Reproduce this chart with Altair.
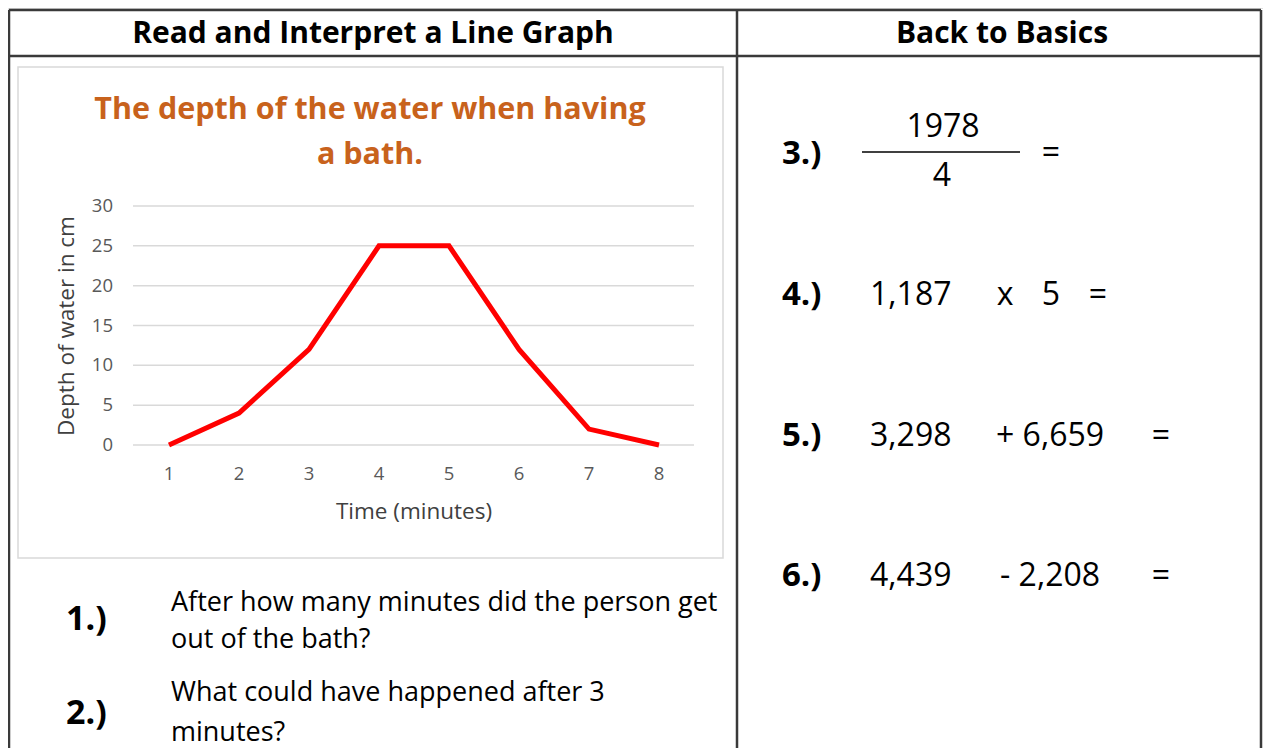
import altair as alt
import pandas as pd

# ---- data ----
minutes = [1, 2, 3, 4, 5, 6, 7, 8]
depth = [0, 4, 12, 25, 25, 12, 2, 0]
y_ticks = [0, 5, 10, 15, 20, 25, 30]

chart_title = ["The depth of the water when having", "a bath."]
x_title = "Time (minutes)"
y_title = "Depth of water in cm"
headers = ["Read and Interpret a Line Graph", "Back to Basics"]
q1 = ["After how many minutes did the person get", "out of the bath?"]
q2 = ["What could have happened after 3", "minutes?"]
q_nums = ["1.)", "2.)", "3.)", "4.)", "5.)", "6.)"]
frac = ["1978", "4"]
sum4 = ["1,187", "x", "5"]
sum5 = ["3,298", "+ 6,659"]
sum6 = ["4,439", "- 2,208"]

FONT = "Open Sans"
W, H = 1255, 740

one = pd.DataFrame({"a": [0]})
line_df = pd.DataFrame({"minute": minutes, "depth": depth})
ytick_df = pd.DataFrame({"v": y_ticks})
xtick_df = pd.DataFrame({"m": minutes})

xs = alt.Scale(domain=[1, 8], range=[161, 651])
ys = alt.Scale(domain=[0, 30], range=[437, 198])


def txt(s, x, y, size, bold=False, color="#000000", align="left", angle=0):
    return alt.Chart(one).mark_text(
        text=s, font=FONT, fontSize=size, fontWeight="bold" if bold else "normal",
        color=color, align=align, baseline="middle", angle=angle
    ).encode(x=alt.value(x), y=alt.value(y))


def rule(x1, y1, x2, y2, color="#3a3a3a", w=2.5):
    return alt.Chart(one).mark_rule(color=color, strokeWidth=w).encode(
        x=alt.value(x1), y=alt.value(y1), x2=alt.value(x2), y2=alt.value(y2))


RIGHT = 1253
layers = []
# table borders
layers.append(rule(1, 2, RIGHT, 2))
layers.append(rule(1, 48, RIGHT, 48))
layers.append(rule(1, 2, 1, H))
layers.append(rule(729, 2, 729, H))
layers.append(rule(RIGHT, 2, RIGHT, H))

# chart frame
layers.append(alt.Chart(one).mark_rect(fill="white", stroke="#d9d9d9", strokeWidth=1.5).encode(
    x=alt.value(10), x2=alt.value(715), y=alt.value(59), y2=alt.value(550)))

# headers
layers.append(txt(headers[0], 365, 26, 30, bold=True, align="center"))
layers.append(txt(headers[1], 994, 26, 30, bold=True, align="center"))

# chart title
orange = "#c8621c"
layers.append(txt(chart_title[0], 362, 102, 30.5, bold=True, color=orange, align="center"))
layers.append(txt(chart_title[1], 362, 147, 30.5, bold=True, color=orange, align="center"))

# gridlines
layers.append(alt.Chart(ytick_df).mark_rule(color="#d9d9d9", strokeWidth=1.5).encode(
    y=alt.Y("v:Q", scale=ys, axis=None), x=alt.value(125), x2=alt.value(686)))
# y tick labels
layers.append(alt.Chart(ytick_df).mark_text(
    font=FONT, fontSize=18.5, color="#595959", align="right", baseline="middle").encode(
    y=alt.Y("v:Q", scale=ys, axis=None), x=alt.value(105), text="v:Q"))
# x tick labels
layers.append(alt.Chart(xtick_df).mark_text(
    font=FONT, fontSize=18.5, color="#595959", align="center", baseline="middle").encode(
    x=alt.X("m:Q", scale=xs, axis=None), y=alt.value(466), text="m:Q"))
# axis titles
layers.append(txt(x_title, 406, 504, 22.5, color="#404040", align="center"))
layers.append(txt(y_title, 59, 318, 22.5, color="#404040", align="center", angle=270))

# data line
layers.append(alt.Chart(line_df).mark_line(color="#ff0000", strokeWidth=5, strokeJoin="miter").encode(
    x=alt.X("minute:Q", scale=xs, axis=None),
    y=alt.Y("depth:Q", scale=ys, axis=None)))

# questions
layers.append(txt(q_nums[0], 58, 612, 34, bold=True))
layers.append(txt(q1[0], 163, 595, 27))
layers.append(txt(q1[1], 163, 632, 27))
layers.append(txt(q_nums[1], 58, 706, 34, bold=True))
layers.append(txt(q2[0], 163, 685, 27))
layers.append(txt(q2[1], 163, 725, 27))

# back to basics
NS = 32
NB = 33
layers.append(txt(q_nums[2], 774, 146, NB, bold=True))
layers.append(rule(854, 144, 1012, 144, color="#404040", w=2))
layers.append(txt(frac[0], 935, 119, NS, align="center"))
layers.append(txt(frac[1], 934, 168, NS, align="center"))
layers.append(txt("=", 1043, 145, NS, align="center"))

layers.append(txt(q_nums[3], 774, 287, NB, bold=True))
layers.append(txt(sum4[0], 862, 287, NS))
layers.append(txt(sum4[1], 997, 287, NS, align="center"))
layers.append(txt(sum4[2], 1043, 287, NS, align="center"))
layers.append(txt("=", 1090, 287, NS, align="center"))

layers.append(txt(q_nums[4], 774, 428, NB, bold=True))
layers.append(txt(sum5[0], 862, 428, NS))
layers.append(txt(sum5[1], 988, 428, NS))
layers.append(txt("=", 1153, 428, NS, align="center"))

layers.append(txt(q_nums[5], 774, 568, NB, bold=True))
layers.append(txt(sum6[0], 862, 568, NS))
layers.append(txt(sum6[1], 992, 568, NS))
layers.append(txt("=", 1153, 568, NS, align="center"))

chart = alt.layer(*layers).properties(
    width=W, height=H, padding=0,
    autosize=alt.AutoSizeParams(type="none"),
).configure_view(stroke=None).configure(background="white")

chart.save("out.html", embed_options={"renderer": "svg", "actions": False})
